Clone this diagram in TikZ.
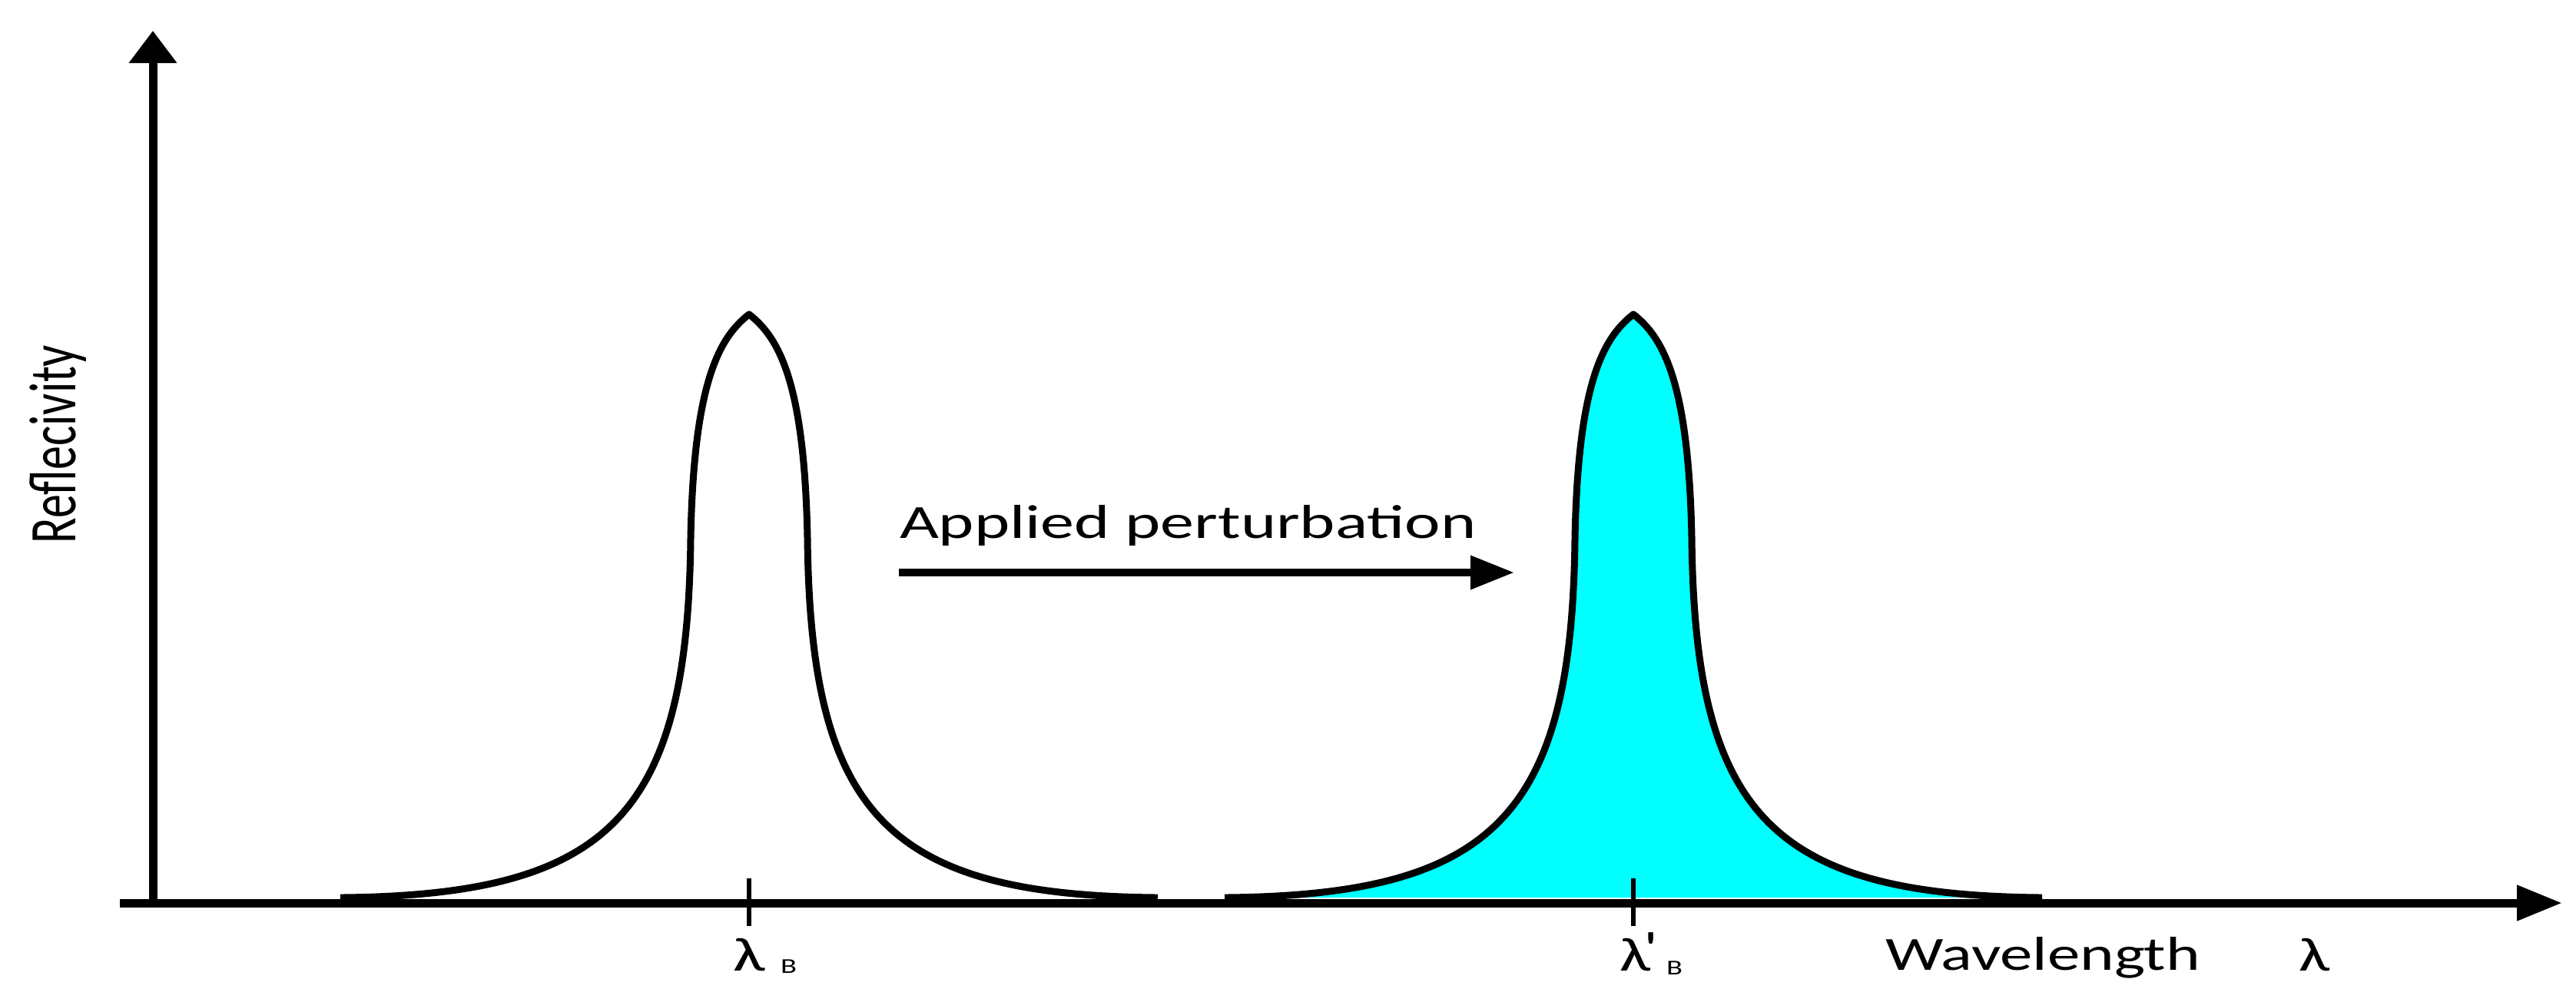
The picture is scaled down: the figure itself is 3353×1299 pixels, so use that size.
\documentclass[tikz,border=0pt]{standalone}
\usepackage{fontspec}
\setmainfont{Carlito}
\usetikzlibrary{arrows.meta}
\definecolor{peakfill}{RGB}{0,255,255}
\tikzset{
  axisline/.style={line width=2.2pt},
  curveline/.style={line width=1.8pt, line join=round},
  tickline/.style={line width=1.3pt},
  lbl/.style={inner sep=0pt, font=\fontsize{12.4}{14}\selectfont},
  sublbl/.style={inner sep=0pt, font=\fontsize{5.5}{6}\selectfont},
  peakp/.style={insert path={(-532,1168) .. controls (-180,1165) and (-80,1060) .. (-76,700)
    .. controls (-72,500) and (-40,440) .. (0,409)
    .. controls (40,440) and (72,500) .. (76,700)
    .. controls (80,1060) and (180,1165) .. (532,1168)}},
}
\begin{document}
\begin{tikzpicture}[x=0.2pt,y=-0.2pt]
\useasboundingbox (0,0) rectangle (3353,1299);
% coordinates
\coordinate (O) at (199,1175);
\coordinate (ytip) at (199,40);
\coordinate (xstart) at (156,1175);
\coordinate (xtip) at (3335,1175);
\coordinate (pa) at (1170,745);
\coordinate (pb) at (1971,745);
\coordinate (c1) at (975,1175);
\coordinate (c2) at (2126,1175);
% fill of shifted peak
\begin{scope}[shift={(2126,0)}]
  \fill[peakfill] [peakp] -- cycle;
\end{scope}
% axes
\draw[axisline, -{Triangle[length=8.4pt,width=12pt]}] (O) -- (ytip);
\draw[axisline, -{Triangle[length=11.8pt,width=8.8pt]}] (xstart) -- (xtip);
% peaks
\begin{scope}[shift={(975,0)}]
  \draw[curveline] [peakp];
\end{scope}
\begin{scope}[shift={(2126,0)}]
  \draw[curveline] [peakp];
\end{scope}
% ticks
\draw[tickline] ([yshift=6.4pt]c1) -- ([yshift=-6pt]c1);
\draw[tickline] ([yshift=6.4pt]c2) -- ([yshift=-6pt]c2);
% perturbation arrow
\draw[line width=2pt, -{Triangle[length=11.4pt,width=8.4pt]}] (pa) -- (pb);
% labels
\node[lbl, anchor=base west] (ap) at (1170,700) {\scalebox{1.42}[1]{Applied perturbation}};
\node[lbl, anchor=base] (wl) at (2659,1262) {\scalebox{1.37}[1]{Wavelength}};
\node[lbl, anchor=base] (lam) at (3013,1263) {\scalebox{1.4}[1]{λ}};
\node[lbl, anchor=base] (lb) at (975,1263) {\scalebox{1.45}[1]{λ}};
\node[sublbl, anchor=base west] (lbs) at (1015,1266) {\scalebox{1.4}[1]{B}};
\node[lbl, anchor=base west] (lbp) at (2107,1263) {\scalebox{1.4}[1]{λ\kern-1.2pt\raisebox{1.6pt}{\textquotesingle}}};
\node[sublbl, anchor=base west] (lbps) at (2168,1268) {\scalebox{1.4}[1]{B}};
\node[lbl, rotate=90, anchor=base west] (refl) at (98,708) {\scalebox{1}[1.4]{Reflecivity}};
\end{tikzpicture}
\end{document}
